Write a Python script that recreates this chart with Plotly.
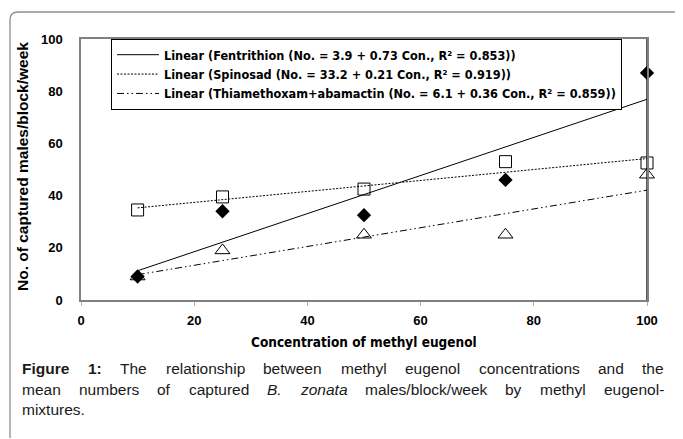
import plotly.graph_objects as go

# ---- data ----
conc = [10, 25, 50, 75, 100]
fentrithion = [9, 34, 32.5, 46, 87]
spinosad = [34.5, 39.5, 42.5, 53, 52.5]
thiamethoxam = [9, 19, 25, 25, 48]

trend_x = [10, 100]
trend_fentrithion = [11.2, 76.9]
trend_spinosad = [35.3, 54.2]
trend_thiamethoxam = [9.7, 42.1]

legend_names = [
    "Linear (Fentrithion (No. = 3.9 + 0.73 Con., R² = 0.853))",
    "Linear (Spinosad (No. = 33.2 + 0.21 Con., R² = 0.919))",
    "Linear (Thiamethoxam+abamactin (No. = 6.1 + 0.36 Con., R² = 0.859))",
]
x_ticks = [0, 20, 40, 60, 80, 100]
y_ticks = [0, 20, 40, 60, 80, 100]

caption_lines = [
    [("Figure", "b"), ("1:", "b"), ("The", ""), ("relationship", ""), ("between", ""),
     ("methyl", ""), ("eugenol", ""), ("concentrations", ""), ("and", ""), ("the", "")],
    [("mean", ""), ("numbers", ""), ("of", ""), ("captured", ""), ("B.", "i"), ("zonata", "i"),
     ("males/block/week", ""), ("by", ""), ("methyl", ""), ("eugenol-", "")],
    [("mixtures.", "")],
]

# ---- page geometry (page has an 8px body margin) ----
OFF = 8
W, H = 683 - OFF, 439 - OFF
PLOT_L, PLOT_R, PLOT_T, PLOT_B = 81, 647, 39, 300   # target page pixels
L, T = PLOT_L - OFF, PLOT_T - OFF
R = W - (PLOT_R - OFF)
B = H - (PLOT_B - OFF)
PW, PH = W - L - R, H - T - B


def px(xp):
    return (xp - OFF - L) / PW


def py(yp):
    return (H - B - (yp - OFF)) / PH


narrow = "DejaVu Sans Condensed, Liberation Sans Narrow, sans-serif"
arial = "Liberation Sans, Arial, sans-serif"

# Arial advance widths (1/1000 em)
AW = {' ': 278, '.': 278, ':': 278, '-': 333, '/': 278, '1': 556,
      'A': 667, 'B': 667, 'F': 611, 'T': 611,
      'a': 556, 'b': 556, 'c': 500, 'd': 556, 'e': 556, 'f': 278, 'g': 556, 'h': 556,
      'i': 222, 'j': 222, 'k': 500, 'l': 222, 'm': 833, 'n': 556, 'o': 556, 'p': 556,
      'q': 556, 'r': 333, 's': 500, 't': 278, 'u': 556, 'v': 500, 'w': 722, 'x': 500,
      'y': 500, 'z': 500}
AWB = {'F': 611, 'i': 278, 'g': 611, 'u': 611, 'r': 389, 'e': 556, '1': 556, ':': 333}


def text_w(word, style, size):
    tbl = AWB if style == "b" else AW
    return sum(tbl.get(c, AW.get(c, 556)) for c in word) * size / 1000.0


fig = go.Figure()

fig.add_trace(go.Scatter(x=trend_x, y=trend_fentrithion, mode="lines", name=legend_names[0],
                         line=dict(color="black", width=1)))
fig.add_trace(go.Scatter(x=trend_x, y=trend_spinosad, mode="lines", name=legend_names[1],
                         line=dict(color="black", width=1, dash="2px,1.5px")))
fig.add_trace(go.Scatter(x=trend_x, y=trend_thiamethoxam, mode="lines", name=legend_names[2],
                         line=dict(color="black", width=1, dash="7px,3px,1.5px,3px,1.5px,3px")))

fig.add_trace(go.Scatter(x=conc, y=spinosad, mode="markers", showlegend=False, cliponaxis=False,
                         marker=dict(symbol="square-open", size=12, color="black", line=dict(width=1))))
fig.add_trace(go.Scatter(x=conc, y=thiamethoxam, mode="markers", showlegend=False, cliponaxis=False,
                         marker=dict(symbol="triangle-up-open", size=13, color="black", line=dict(width=1))))
fig.add_trace(go.Scatter(x=conc, y=fentrithion, mode="markers", showlegend=False, cliponaxis=False,
                         marker=dict(symbol="diamond", size=11, color="black")))

shapes = []
shapes.append(dict(type="line", xref="x", yref="y", x0=100, x1=100, y0=0, y1=100,
                   line=dict(color="black", width=1.3), layer="above"))
# outer rounded frame (open at the bottom)
bx0, bx1, by1, by0 = px(10), px(681), py(12), py(438)
rx, ry = 8 / PW, 8 / PH
path = (f"M {bx0},{by0} L {bx0},{by1 - ry} Q {bx0},{by1} {bx0 + rx},{by1} "
        f"L {bx1 - rx},{by1} Q {bx1},{by1} {bx1},{by1 - ry} L {bx1},{by0}")
shapes.append(dict(type="path", xref="paper", yref="paper", path=path,
                   line=dict(color="#8f8f8f", width=1.3), layer="above"))

annotations = [
    dict(text="<b>No. of captured males/block/week</b>", xref="paper", yref="paper",
         x=px(22), y=py(167), textangle=-90, showarrow=False,
         font=dict(family=arial, size=15.5, color="black"), xanchor="center", yanchor="middle"),
    dict(text="<b>Concentration of methyl eugenol</b>", xref="paper", yref="paper",
         x=px(364), y=py(342), showarrow=False,
         font=dict(family=narrow, size=13.5, color="black"), xanchor="center", yanchor="middle"),
]

# justified caption, one annotation per word
CAP_SIZE = 15.5
cap_left, cap_right = 22, 664
cap_y = [368, 389, 409]
for i, (words, yy) in enumerate(zip(caption_lines, cap_y)):
    widths = [text_w(w, s, CAP_SIZE) for w, s in words]
    justify = i < len(caption_lines) - 1 and len(words) > 1
    if justify:
        gap = (cap_right - cap_left - sum(widths)) / (len(words) - 1)
    else:
        gap = AW[' '] * CAP_SIZE / 1000.0
    xcur = cap_left
    for (w, s), ww in zip(words, widths):
        t = f"<{s}>{w}</{s}>" if s else w
        annotations.append(dict(text=t, xref="paper", yref="paper", x=px(xcur), y=py(yy),
                                showarrow=False, xanchor="left", yanchor="middle",
                                borderpad=0, borderwidth=0,
                                font=dict(family=arial, size=CAP_SIZE, color="#1a1a1a")))
        xcur += ww + gap

fig.update_layout(
    width=W, height=H,
    margin=dict(l=L, r=R, t=T, b=B, pad=0),
    paper_bgcolor="white", plot_bgcolor="white",
    showlegend=True,
    legend=dict(x=px(111), y=1, xanchor="left", yanchor="top",
                bgcolor="white", bordercolor="black", borderwidth=1,
                font=dict(family=narrow, size=12.6, color="black", weight="bold"),
                itemwidth=42, tracegroupgap=0),
    xaxis=dict(range=[0, 100], tickvals=x_ticks, showgrid=False, zeroline=False,
               showline=True, linecolor="#808080", linewidth=1.5, mirror=True,
               ticks="outside", ticklen=4, tickcolor="#b0b0b0",
               tickfont=dict(family=arial, size=13, color="black", weight="bold"),
               ticklabelstandoff=4),
    yaxis=dict(range=[0, 100], tickvals=y_ticks, showgrid=False, zeroline=False,
               showline=True, linecolor="#808080", linewidth=1.5, mirror=True,
               ticks="", tickfont=dict(family=arial, size=13, color="black", weight="bold"),
               ticklabelstandoff=14),
    shapes=shapes,
    annotations=annotations,
)

fig.write_html("out.html")
